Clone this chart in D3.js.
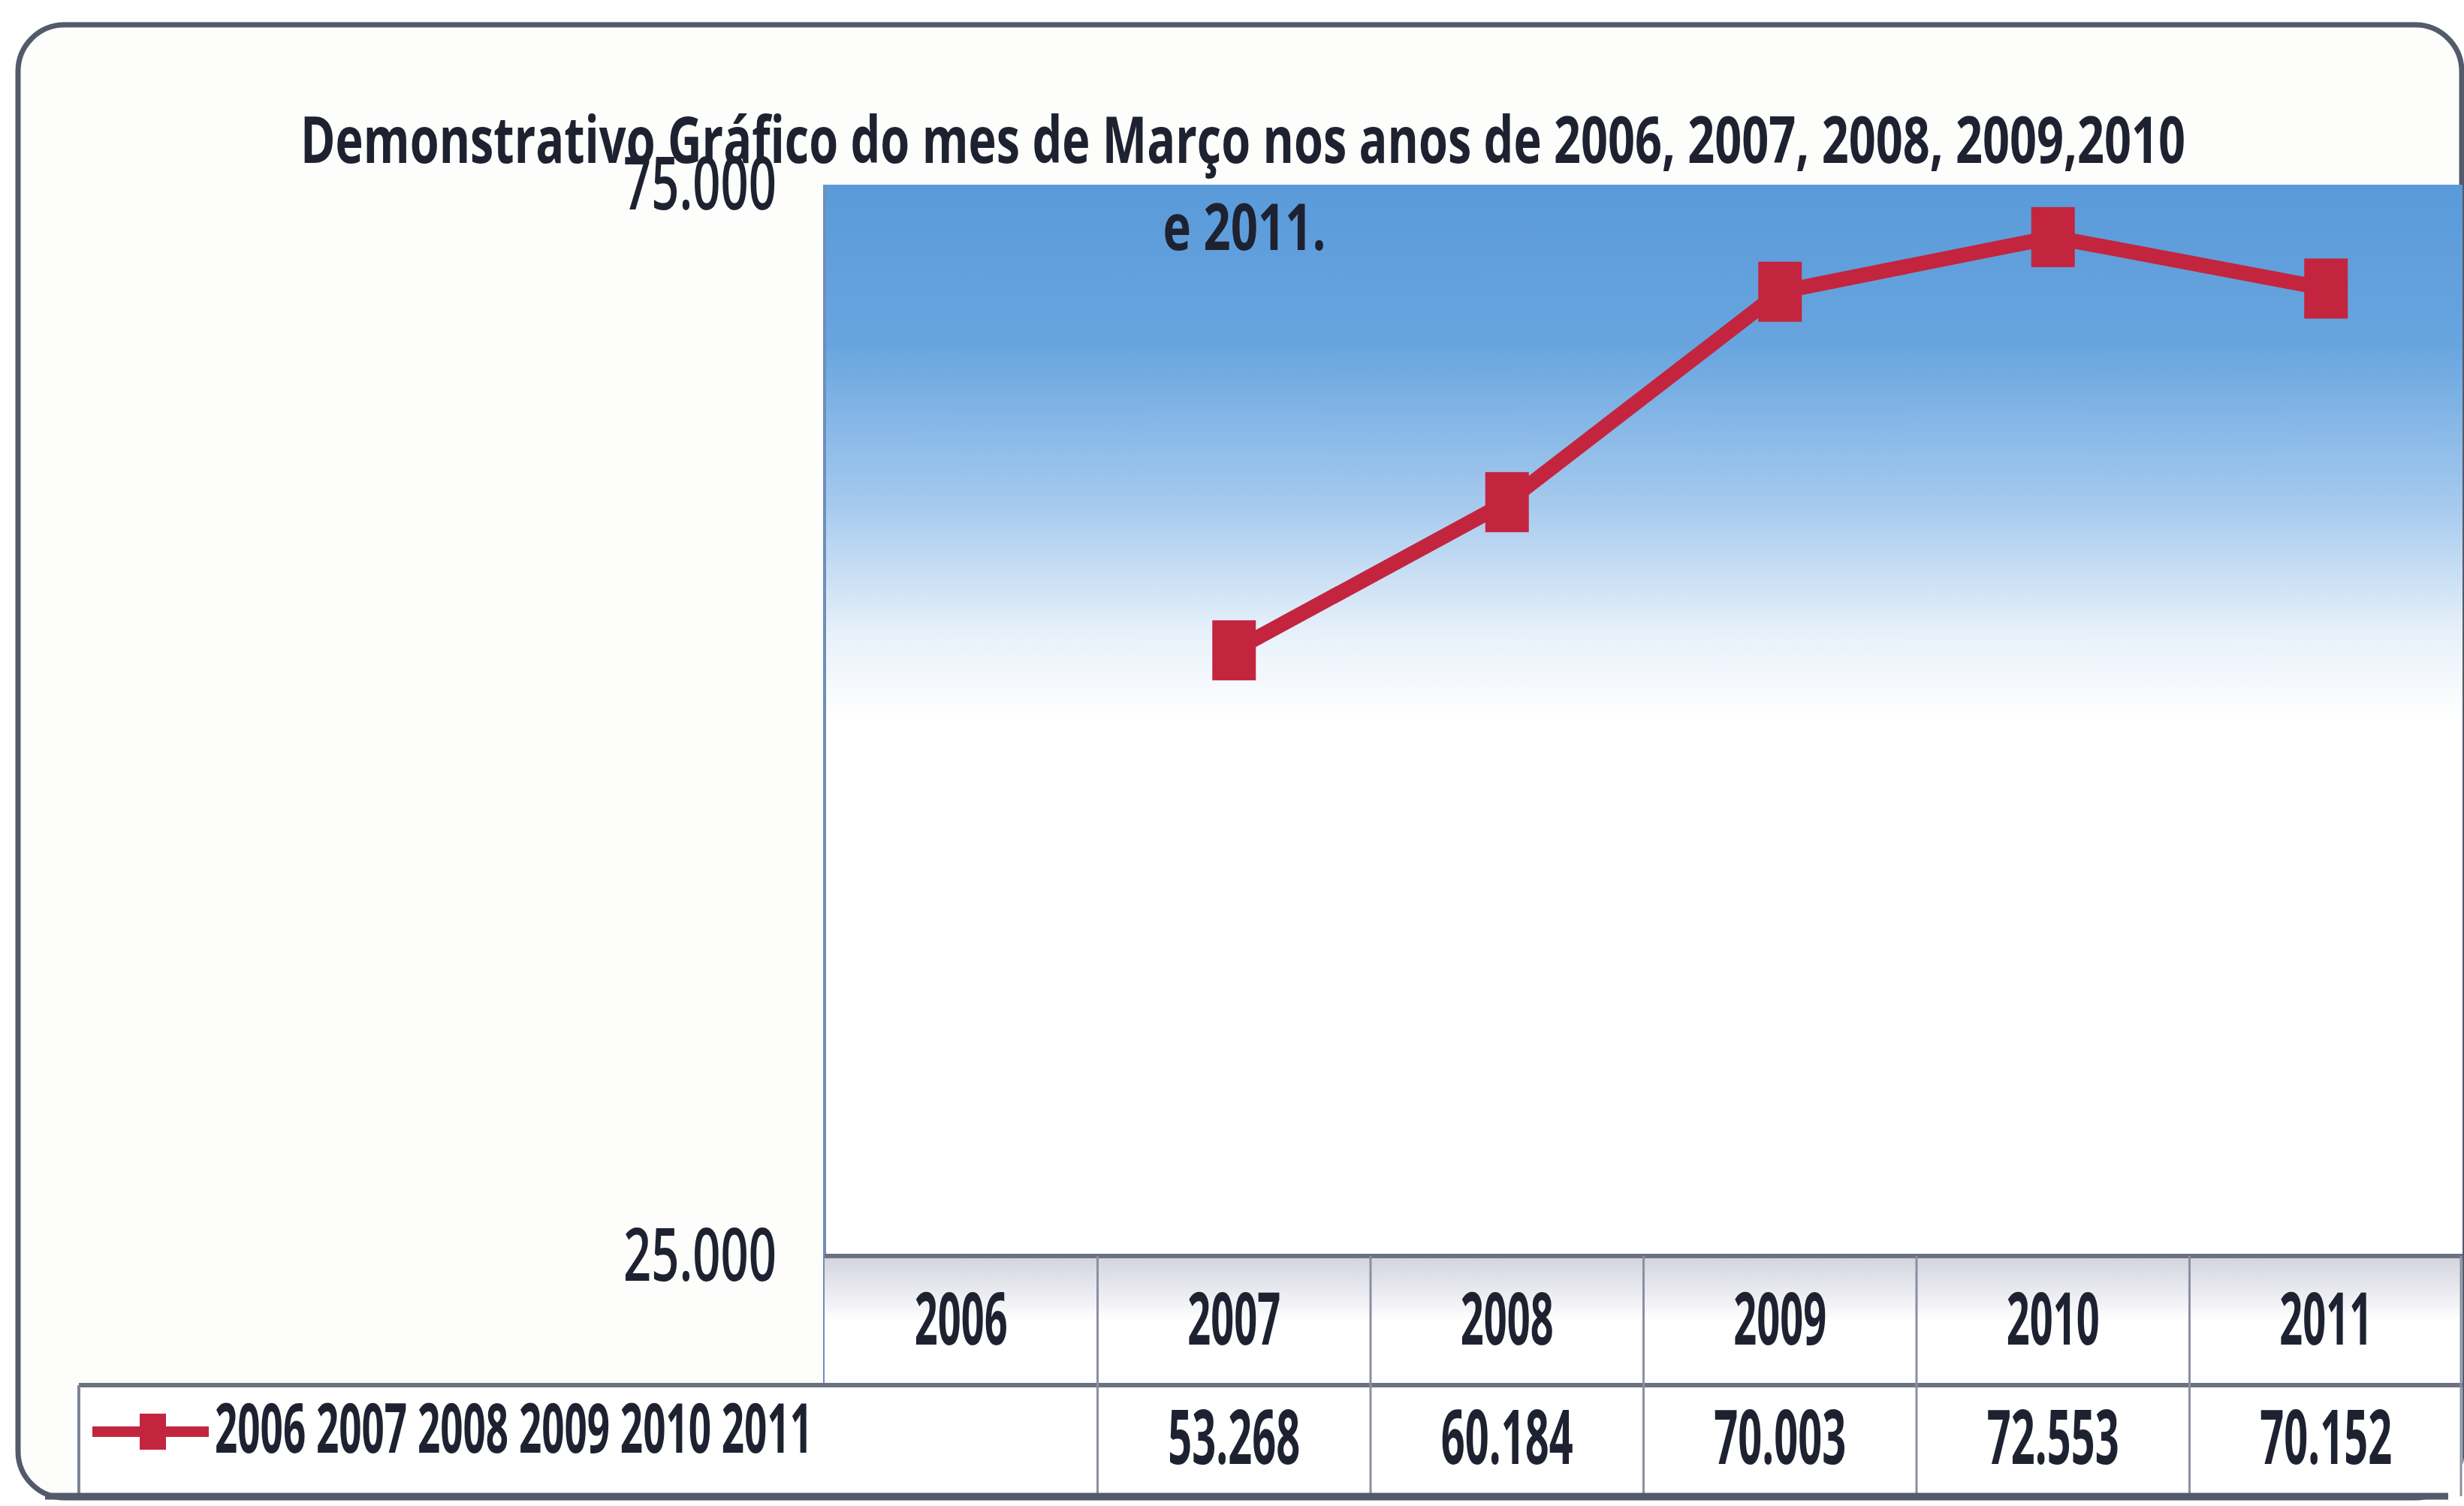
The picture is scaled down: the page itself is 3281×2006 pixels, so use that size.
<!DOCTYPE html>
<html>
<head>
<meta charset="utf-8">
<script src="https://cdn.jsdelivr.net/npm/d3@7"></script>
<style>
  body { margin: 0; background: #ffffff; }
  svg { display: block; }
  text { font-family: 'Open Sans', 'Noto Sans', sans-serif; fill: #1e2230; }
</style>
</head>
<body>
<div class="container"></div>
<script>
const years = ['2006', '2007', '2008', '2009', '2010', '2011'];
const values = [null, 53268, 60184, 70003, 72553, 70152];
const yTicks = [25000, 75000];
const titleLines = ['Demonstrativo Gráfico do mes de Março nos anos de 2006, 2007, 2008, 2009,2010', 'e 2011.'];
const legendLabel = years.join(' ');

const width = 3281;
const height = 2006;

const plot = { left: 1098, right: 3279, top: 246, bottom: 1673 };
const table = { header: 1673, row: 1845, bottom: 1993, legendLeft: 105 };

const br = d3.formatLocale({ decimal: ',', thousands: '.', grouping: [3], currency: ['R$', ''] });
const fmt = br.format(',.0f');

const svg = d3
  .select('.container')
  .append('svg')
  .attr('width', width)
  .attr('height', height);

const defs = svg.append('defs');

const bg = defs
  .append('linearGradient')
  .attr('id', 'plot-bg')
  .attr('x1', 0).attr('y1', 0).attr('x2', 0).attr('y2', 1);
[[0, '#5a9ad9'], [0.15, '#68a5df'], [0.3, '#a6caee'], [0.42, '#e8f1fa'], [0.5, '#ffffff'], [1, '#ffffff']]
  .forEach(s => bg.append('stop').attr('offset', s[0]).attr('stop-color', s[1]));

const hd = defs
  .append('linearGradient')
  .attr('id', 'head-bg')
  .attr('x1', 0).attr('y1', 0).attr('x2', 0).attr('y2', 1);
[[0, '#d3d3de'], [0.3, '#ececf2'], [0.5, '#ffffff'], [1, '#ffffff']]
  .forEach(s => hd.append('stop').attr('offset', s[0]).attr('stop-color', s[1]));

var x = d3.scaleBand().domain(years).range([plot.left, plot.right]).padding(0);
var y = d3.scaleLinear().domain([25000, 75000]).range([plot.bottom, plot.top]);

// outer frame
svg
  .append('rect')
  .attr('x', 24)
  .attr('y', 33)
  .attr('width', 3254)
  .attr('height', 1962)
  .attr('rx', 62)
  .attr('fill', '#fdfdfc')
  .attr('stroke', '#535a6a')
  .attr('stroke-width', 7);

// plot background
svg
  .append('rect')
  .attr('x', plot.left)
  .attr('y', plot.top)
  .attr('width', plot.right - plot.left)
  .attr('height', plot.bottom - plot.top)
  .attr('fill', 'url(#plot-bg)');

svg
  .append('line')
  .attr('x1', plot.left).attr('x2', plot.left)
  .attr('y1', plot.top).attr('y2', table.bottom)
  .attr('stroke', '#6f8fb8')
  .attr('stroke-width', 4);

// title
svg
  .selectAll('.title')
  .data(titleLines)
  .enter()
  .append('text')
  .attr('class', 'title')
  .attr('x', (d, i) => (i === 0 ? 1655 : 1657))
  .attr('y', (d, i) => (i === 0 ? 217 : 333))
  .attr('text-anchor', 'middle')
  .attr('font-size', 86)
  .attr('font-weight', 700)
  .attr('textLength', (d, i) => (i === 0 ? 2510 : 217))
  .attr('lengthAdjust', 'spacingAndGlyphs')
  .text(d => d);

// y labels
svg
  .selectAll('.ytick')
  .data(yTicks)
  .enter()
  .append('text')
  .attr('class', 'ytick')
  .attr('x', 1034)
  .attr('y', d => y(d))
  .attr('dy', '0.34em')
  .attr('text-anchor', 'end')
  .attr('font-size', 98)
  .attr('font-weight', 600)
  .attr('textLength', 204)
  .attr('lengthAdjust', 'spacingAndGlyphs')
  .text(d => fmt(d));

// data table
svg
  .append('rect')
  .attr('x', plot.left)
  .attr('y', table.header)
  .attr('width', plot.right - plot.left)
  .attr('height', table.row - table.header)
  .attr('fill', 'url(#head-bg)');

svg
  .append('rect')
  .attr('x', table.legendLeft)
  .attr('y', table.row)
  .attr('width', plot.right - table.legendLeft)
  .attr('height', table.bottom - table.row)
  .attr('fill', '#ffffff');

svg
  .append('line')
  .attr('x1', plot.left).attr('x2', plot.right)
  .attr('y1', table.header).attr('y2', table.header)
  .attr('stroke', '#6c7282')
  .attr('stroke-width', 6);

svg
  .append('line')
  .attr('x1', table.legendLeft).attr('x2', plot.right)
  .attr('y1', table.row).attr('y2', table.row)
  .attr('stroke', '#6c7282')
  .attr('stroke-width', 6);

svg
  .append('line')
  .attr('x1', table.legendLeft).attr('x2', table.legendLeft)
  .attr('y1', table.row).attr('y2', table.bottom)
  .attr('stroke', '#7d8394')
  .attr('stroke-width', 4);

svg
  .selectAll('.sep')
  .data(years.slice(1).concat(['end']))
  .enter()
  .append('line')
  .attr('class', 'sep')
  .attr('x1', d => (d === 'end' ? plot.right - 2 : x(d)))
  .attr('x2', d => (d === 'end' ? plot.right - 2 : x(d)))
  .attr('y1', table.header)
  .attr('y2', table.bottom)
  .attr('stroke', '#8a90a2')
  .attr('stroke-width', 3);

svg
  .append('line')
  .attr('x1', 60).attr('x2', 3260)
  .attr('y1', table.bottom).attr('y2', table.bottom)
  .attr('stroke', '#535a6a')
  .attr('stroke-width', 9);

svg
  .selectAll('.year')
  .data(years)
  .enter()
  .append('text')
  .attr('class', 'year')
  .attr('x', d => x(d) + x.bandwidth() / 2)
  .attr('y', 1791)
  .attr('text-anchor', 'middle')
  .attr('font-size', 96)
  .attr('font-weight', 700)
  .attr('textLength', 124)
  .attr('lengthAdjust', 'spacingAndGlyphs')
  .text(d => d);

svg
  .selectAll('.val')
  .data(years.filter((d, i) => values[i] != null))
  .enter()
  .append('text')
  .attr('class', 'val')
  .attr('x', d => x(d) + x.bandwidth() / 2)
  .attr('y', 1950)
  .attr('text-anchor', 'middle')
  .attr('font-size', 100)
  .attr('font-weight', 700)
  .attr('textLength', 176)
  .attr('lengthAdjust', 'spacingAndGlyphs')
  .text(d => fmt(values[years.indexOf(d)]));

// legend
svg
  .append('line')
  .attr('x1', 123).attr('x2', 278)
  .attr('y1', 1907).attr('y2', 1907)
  .attr('stroke', '#c3253f')
  .attr('stroke-width', 14);

svg
  .append('rect')
  .attr('x', 186).attr('y', 1883)
  .attr('width', 35).attr('height', 48)
  .attr('fill', '#c3253f');

svg
  .append('text')
  .attr('x', 286)
  .attr('y', 1935)
  .attr('font-size', 92)
  .attr('font-weight', 700)
  .attr('textLength', 796)
  .attr('lengthAdjust', 'spacingAndGlyphs')
  .text(legendLabel);

// series
const points = years.map((d, i) => ({ year: d, value: values[i] }));

var line = d3
  .line()
  .defined(d => d.value != null)
  .x(d => x(d.year) + x.bandwidth() / 2)
  .y(d => y(d.value));

svg
  .append('path')
  .datum(points)
  .attr('d', line)
  .attr('fill', 'none')
  .attr('stroke', '#c3253f')
  .attr('stroke-width', 20);

svg
  .selectAll('.marker')
  .data(points.filter(d => d.value != null))
  .enter()
  .append('rect')
  .attr('class', 'marker')
  .attr('x', d => x(d.year) + x.bandwidth() / 2 - 29)
  .attr('y', d => y(d.value) - 40)
  .attr('width', 58)
  .attr('height', 80)
  .attr('fill', '#c3253f');
</script>
</body>
</html>
